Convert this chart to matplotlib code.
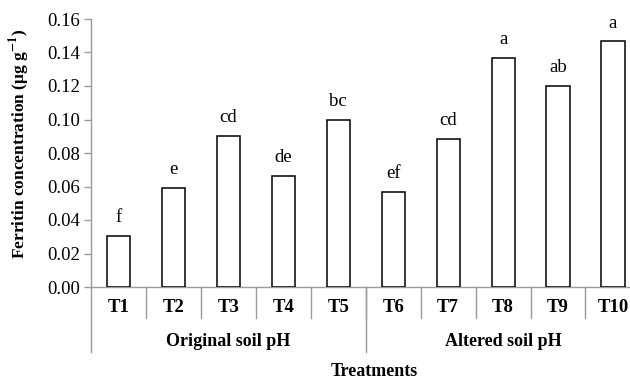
import matplotlib
matplotlib.use('Agg')
import matplotlib.pyplot as plt
import matplotlib.transforms as mtrans
import numpy as np

plt.rcParams['font.family'] = 'Liberation Serif'
plt.rcParams['mathtext.fontset'] = 'stix'

treatments = ['T1', 'T2', 'T3', 'T4', 'T5', 'T6', 'T7', 'T8', 'T9', 'T10']
ferritin = [0.0304, 0.0593, 0.0901, 0.0665, 0.1000, 0.0568, 0.0884, 0.1366, 0.1200, 0.1467]
letters = ['f', 'e', 'cd', 'de', 'bc', 'ef', 'cd', 'a', 'ab', 'a']
groups = ['Original soil pH', 'Altered soil pH']
group_sizes = [5, 5]
yticks = [0.00, 0.02, 0.04, 0.06, 0.08, 0.10, 0.12, 0.14, 0.16]

grey = '#9a9a9a'
fig = plt.figure(figsize=(6.30, 3.79), dpi=100)
ax = fig.add_axes([91 / 630, 1 - 287 / 379, (630 - 91) / 630, 268 / 379])

x = np.arange(len(treatments))
ax.bar(x, ferritin, width=0.42, color='white', edgecolor='black', linewidth=1.1, zorder=3)
for xi, v, lab in zip(x, ferritin, letters):
    ax.annotate(lab, (xi, v), xytext=(0, 7), textcoords='offset points',
                ha='center', va='bottom', fontsize=13.5)

ax.set_xlim(-0.5, 9.31)
ax.set_ylim(0, 0.16)
ax.set_yticks(yticks)
ax.set_yticklabels(['{:.2f}'.format(t) for t in yticks], fontsize=13.5)
ax.set_xticks([])

for s in ['top', 'right']:
    ax.spines[s].set_visible(False)
for s in ['left', 'bottom']:
    ax.spines[s].set_color(grey)
    ax.spines[s].set_linewidth(1.0)
ax.tick_params(axis='y', length=5, color=grey, width=1.0, pad=3)

trans = mtrans.blended_transform_factory(ax.transData, ax.transAxes)
# treatment labels and separators below the axis
for xi, t in zip(x, treatments):
    ax.text(xi, -0.077, t, transform=trans, ha='center', va='center',
            fontsize=13.5, fontweight='bold')
for b in np.arange(0.5, len(treatments) - 1, 1.0):
    ax.plot([b, b], [0, -0.116], transform=trans, color=grey, lw=1.0, clip_on=False)

# group labels and longer separators
start = 0
ax.plot([-0.5, -0.5], [0, -0.243], transform=trans, color=grey, lw=1.0, clip_on=False)
for g, n in zip(groups, group_sizes):
    mid = start + (n - 1) / 2
    ax.text(mid, -0.203, g, transform=trans, ha='center', va='center',
            fontsize=13, fontweight='bold')
    start += n
    if start < len(treatments):
        ax.plot([start - 0.5, start - 0.5], [0, -0.243], transform=trans,
                color=grey, lw=1.0, clip_on=False)

fig.text(374 / 630, 1 - 376 / 379, 'Treatments', ha='center', va='baseline',
         fontsize=13, fontweight='bold')
fig.text(20 / 630, 1 - 144 / 379, r'Ferritin concentration (μg g$^{\mathbf{-1}}$)',
         rotation=90, ha='center', va='center', fontsize=12.5, fontweight='bold')

fig.savefig('out.png', dpi=100)
